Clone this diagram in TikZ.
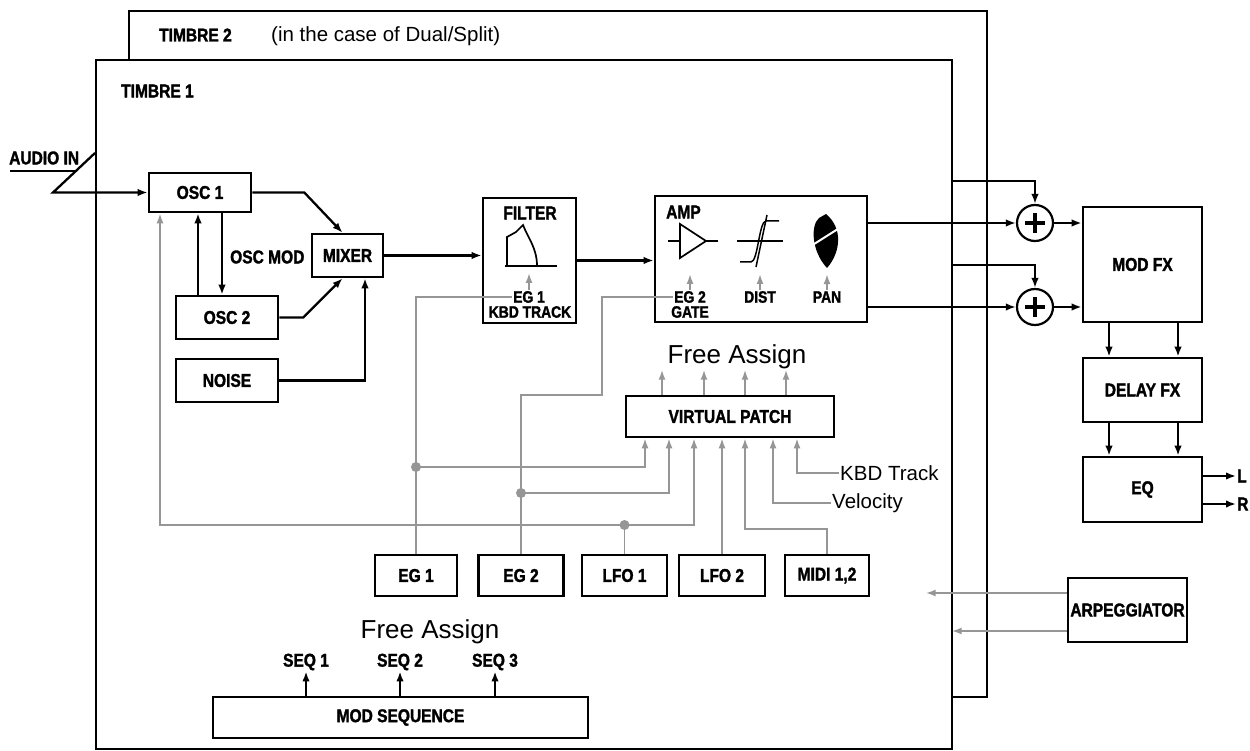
\documentclass[tikz,border=0pt]{standalone}
\usepackage{fontspec}
\setmainfont{Liberation Sans}
\newfontfamily\lblfont[FakeStretch=0.84,FakeBold=1.6]{Liberation Sans}
\usetikzlibrary{arrows.meta}
\definecolor{gcol}{RGB}{150,150,150}
\newcommand\LblA{\lblfont\bfseries\fontsize{18.5}{20}\selectfont}
\newcommand\LblB{\lblfont\bfseries\fontsize{16.5}{17}\selectfont}
\newcommand\TxtA{\fontsize{20.5}{23}\selectfont}
\newcommand\TxtB{\fontsize{26}{29}\selectfont}
\begin{document}
\begin{tikzpicture}[x=1pt,y=-1pt,
  tframe/.style={draw, line width=2.2pt, fill=white, inner sep=0pt},
  blk/.style={draw, line width=2.6pt, fill=white, inner sep=0pt, font=\LblA},
  lab/.style={inner sep=1pt, font=\LblA},
  slab/.style={inner sep=1pt, font=\LblB},
  txt/.style={inner sep=1pt, font=\TxtA},
  big/.style={inner sep=1pt, font=\TxtB},
  ln/.style={line width=2.3pt},
  arr/.style={line width=2.3pt, -{Latex[length=10pt,width=7.5pt]}},
  gl/.style={line width=1.8pt, draw=gcol},
  garr/.style={gl, -{Latex[length=10pt,width=7pt]}},
  sumc/.style={circle, draw, line width=2.2pt, fill=white, minimum size=36pt, inner sep=0pt},
]
\useasboundingbox (0,0) rectangle (1250,751);
\fill[white] (0,0) rectangle (1250,751);

% frames
\node[tframe, anchor=north west, minimum width=858pt, minimum height=686pt] (t2) at (128,10) {};
\node[tframe, anchor=north west, minimum width=856pt, minimum height=689pt] (t1) at (95,59) {};
\node[lab, anchor=west] (t2lbl) at (158,35) {TIMBRE 2};
\node[txt, anchor=west] (t2sub) at (270,36) {(in the case of Dual/Split)};
\node[lab, anchor=west] (t1lbl) at (120,91) {TIMBRE 1};

% blocks
\node[blk, minimum width=102pt, minimum height=39pt] (osc1) at (200,192.5) {OSC 1};
\node[blk, minimum width=71pt, minimum height=43pt] (mixer) at (347.5,255.5) {MIXER};
\node[blk, minimum width=102pt, minimum height=43pt] (osc2) at (227,317.5) {OSC 2};
\node[blk, minimum width=102pt, minimum height=43pt] (noise) at (227,380.5) {NOISE};
\node[blk, minimum width=93pt, minimum height=125pt] (filter) at (529.5,260.5) {};
\node[blk, minimum width=212pt, minimum height=126pt] (amp) at (761,259) {};
\node[blk, minimum width=208pt, minimum height=41pt] (vp) at (730,416.5) {VIRTUAL PATCH};
\node[blk, minimum width=82pt, minimum height=41pt] (eg1b) at (416,575.5) {EG 1};
\node[blk, minimum width=85pt, minimum height=41pt] (eg2b) at (521,575.5) {EG 2};
\node[blk, minimum width=85pt, minimum height=41pt] (lfo1) at (624.5,575.5) {LFO 1};
\node[blk, minimum width=86pt, minimum height=41pt] (lfo2) at (722,575.5) {LFO 2};
\node[blk, minimum width=84pt, minimum height=41pt] (midi) at (827,575.5) {MIDI 1,2};
\node[blk, minimum width=375pt, minimum height=41pt] (modseq) at (400.5,717.5) {MOD SEQUENCE};
\node[blk, minimum width=119pt, minimum height=115pt] (modfx) at (1142.5,264.5) {MOD FX};
\node[blk, minimum width=119pt, minimum height=64pt] (delay) at (1142.5,390) {DELAY FX};
\node[blk, minimum width=119pt, minimum height=65pt] (eq) at (1142.5,489.5) {EQ};
\node[blk, minimum width=119pt, minimum height=64pt] (arp) at (1127.5,610) {ARPEGGIATOR};
\node[sumc] (s1) at (1035,223) {};
\node[sumc] (s2) at (1035,307) {};
\foreach \s in {s1,s2}{
  \draw[line width=4.5pt] ([xshift=-10pt]\s.center) -- ([xshift=10pt]\s.center);
  \draw[line width=4.5pt] ([yshift=-10pt]\s.center) -- ([yshift=10pt]\s.center);
}

% labels
\node[lab, anchor=west] (ain) at (8,158) {AUDIO IN};
\node[lab, anchor=west] (oscmod) at (229,257) {OSC MOD};
\node[lab] (ftl) at (530,213) {FILTER};
\node[slab] (feg) at (529,297) {EG 1};
\node[slab] (fkbd) at (530,312) {KBD TRACK};
\node[lab, anchor=west] (ampl) at (665,212) {AMP};
\node[slab] (aeg) at (690,297) {EG 2};
\node[slab] (agate) at (690,312) {GATE};
\node[slab] (adist) at (760,297) {DIST};
\node[slab] (apan) at (827,297) {PAN};
\node[big] (fa1) at (737,357) {Free Assign};
\node[big] (fa2) at (430,632) {Free Assign};
\node[txt, anchor=west] (kbd) at (839,473) {KBD Track};
\node[txt, anchor=west] (vel) at (831,503) {Velocity};
\node[lab] (seq1) at (306,662) {SEQ 1};
\node[lab] (seq2) at (400,662) {SEQ 2};
\node[lab] (seq3) at (495,662) {SEQ 3};
\node[lab, anchor=west] (lout) at (1236,476) {L};
\node[lab, anchor=west] (rout) at (1236,504) {R};

% filter symbol
\draw[line width=1.7pt] (507,266) -- (507,237) -- (516,232) -- (523,225)
  .. controls (528,238) and (537,248) .. (537,266);
\draw[line width=2.2pt] (505,266) -- (557,266);
% amp symbols
\draw[line width=1.7pt] (668,241) -- (680,241);
\draw[line width=1.7pt] (680,224) -- (680,258) -- (706,241) -- cycle;
\draw[line width=1.7pt] (706,241) -- (718,241);
\draw[line width=2.8pt] (737,241) -- (783,241);
\draw[line width=1.5pt] (740,262) -- (751,262) .. controls (758,262) and (759,221) .. (766,221) -- (779,221);
\draw[line width=1.5pt] (756,267) -- (767,215);
\fill (826,214) .. controls (843,228) and (841,252) .. (827,268)
  .. controls (812,252) and (810,226) .. (819,218) -- cycle;
\draw[white, line width=2pt] (811,246) -- (841,227);
% internal grey arrows
\draw[garr] (feg.north) -- ++(0,-17);
\draw[garr] (aeg.north) -- ++(0,-16);
\draw[garr] (adist.north) -- ++(0,-16);
\draw[garr] (apan.north) -- ++(0,-16);

% audio in
\coordinate (au1) at (10,171);
\coordinate (au2) at (77,171);
\coordinate (au3) at (95,153);
\coordinate (au4) at (53,192.5);
\draw[ln] (au1) -- (au2);
\draw[arr] (au3) -- (au4) -- (au4 -| osc1.west);

% audio path
\draw[arr] (osc1.east) -- ++(52,0) -- ([xshift=-5pt]mixer.north);
\draw[arr] (osc2.east) -- ++(24,0) -- ([xshift=-5pt]mixer.south);
\draw[arr] (noise.east) -| ([xshift=17.5pt]mixer.south);
\coordinate (m1) at ([xshift=-29pt]osc2.north);
\draw[arr] (m1) -- (m1 |- osc1.south);
\coordinate (m2) at ([xshift=22pt]osc1.south);
\draw[arr] (m2) -- (m2 |- osc2.north);
\draw[arr] (mixer.east) -- (mixer.east -| filter.west);
\draw[arr] (filter.east) -- (filter.east -| amp.west);
\draw[arr] (s1 -| amp.east) -- (s1.west);
\draw[arr] (s2 -| amp.east) -- (s2.west);
\coordinate (ta) at (951,181);
\coordinate (tb) at (951,265);
\draw[arr] (ta) -| (s1.north);
\draw[arr] (tb) -| (s2.north);
\draw[arr] (s1.east) -- (s1.east -| modfx.west);
\draw[arr] (s2.east) -- (s2.east -| modfx.west);
\coordinate (xa) at (1109,0);
\coordinate (xb) at (1178,0);
\draw[arr] (xa |- modfx.south) -- (xa |- delay.north);
\draw[arr] (xb |- modfx.south) -- (xb |- delay.north);
\draw[arr] (xa |- delay.south) -- (xa |- eq.north);
\draw[arr] (xb |- delay.south) -- (xb |- eq.north);
\draw[arr] (lout.west -| eq.east) -- (lout.west);
\draw[arr] (rout.west -| eq.east) -- (rout.west);
\draw[arr] (seq1.south |- modseq.north) -- (seq1.south);
\draw[arr] (seq2.south |- modseq.north) -- (seq2.south);
\draw[arr] (seq3.south |- modseq.north) -- (seq3.south);

% modulation (grey)
\draw[gl] (eg1b.north) |- (feg.west);
\coordinate (c1) at (602,395);
\draw[gl] (eg2b.north) |- (c1) |- (aeg.west);
\coordinate (j1) at (416,467);
\coordinate (j2) at (521,493);
\coordinate (j3) at (624.5,525);
\coordinate (v1) at (645,0);
\coordinate (v2) at (669,0);
\coordinate (v3) at (694,0);
\coordinate (v5) at (745,0);
\coordinate (v6) at (773,0);
\coordinate (v7) at (797,0);
\coordinate (k5) at (745,529);
\draw[garr] (j1) -| (v1 |- vp.south);
\draw[garr] (j2) -| (v2 |- vp.south);
\draw[gl] (lfo1.north) -- (j3);
\draw[garr] (j3) -| (v3 |- vp.south);
\draw[garr] (j3) -| ([xshift=-40pt]osc1.south);
\draw[garr] (lfo2.north) -- (lfo2.north |- vp.south);
\draw[garr] (midi.north) |- (k5) -- (v5 |- vp.south);
\draw[garr] (vel.west) -| (v6 |- vp.south);
\draw[garr] (kbd.west) -| (v7 |- vp.south);
\fill[gcol] (j1) circle (5pt);
\fill[gcol] (j2) circle (5pt);
\fill[gcol] (j3) circle (5pt);
\draw[garr] ([xshift=-68pt]vp.north) -- ++(0,-25);
\draw[garr] ([xshift=-26pt]vp.north) -- ++(0,-25);
\draw[garr] ([xshift=15pt]vp.north) -- ++(0,-25);
\draw[garr] ([xshift=56pt]vp.north) -- ++(0,-25);
\draw[garr] ([yshift=17pt]arp.west) -- ++(-141,0);
\draw[garr] ([yshift=-21pt]arp.west) -- ++(-115,0);
\end{tikzpicture}
\end{document}
